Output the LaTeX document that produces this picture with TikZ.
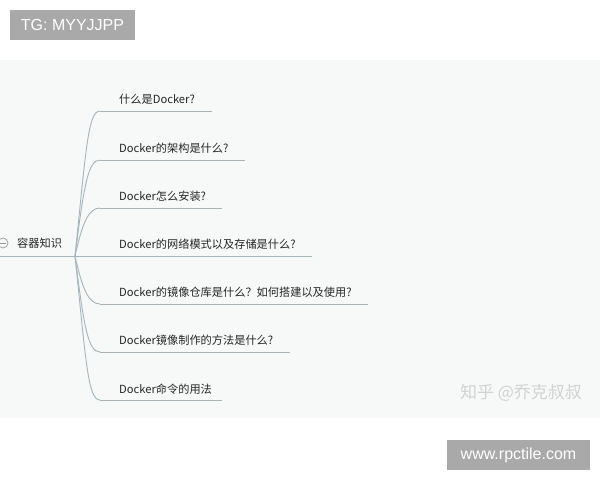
\documentclass[tikz,border=0pt]{standalone}
\usepackage{fontspec}
\setmainfont{Liberation Sans}
\newfontfamily\cjk{Noto Sans CJK SC}
\begin{document}
\begin{tikzpicture}[x=1pt,y=-1pt,
  topic/.style={anchor=west,inner sep=0pt,font=\cjk\fontsize{11.2}{13}\selectfont,text=black!85},
  branch/.style={draw=bluegray,line width=0.9pt},
  uline/.style={draw=ulgray,line width=0.9pt},
  wmbox/.style={fill=boxgray,text=white,inner sep=0pt,font=\fontsize{16}{18}\selectfont}]
\definecolor{bluegray}{HTML}{A3B6BC}
\definecolor{ulgray}{HTML}{A9B3B6}
\definecolor{boxgray}{HTML}{A9A9A9}
\definecolor{panel}{HTML}{F7F8F8}
\useasboundingbox (0,0) rectangle (600,480);
\fill[white] (0,0) rectangle (600,480);
\fill[panel] (0,60) rectangle (600,418);
% watermark boxes
\node[wmbox,minimum width=125pt,minimum height=30pt] (tg) at (72.5,25) {TG: MYYJJPP};
\node[wmbox,minimum width=143pt,minimum height=30pt] (www) at (518.5,455) {www.rpctile.com};
% root
\node[topic] (root) at (17,243) {容器知识};
\draw[gray!80,line width=0.7pt] (3,243) circle (5);
\draw[gray!80,line width=0.7pt] (0,243) -- (6,243);
\coordinate (r0) at (0,256);
\coordinate (hub) at (75,256);
\draw[branch] (r0) -- (hub);
% topics
\node[topic] (t1) at (119,99) {什么是Docker?};
\node[topic] (t2) at (119,148) {Docker的架构是什么?};
\node[topic] (t3) at (119,196) {Docker怎么安装?};
\node[topic] (t4) at (119,244) {Docker的网络模式以及存储是什么?};
\node[topic] (t5) at (119,292) {Docker的镜像仓库是什么？如何搭建以及使用?};
\node[topic] (t6) at (119,340) {Docker镜像制作的方法是什么?};
\node[topic] (t7) at (119,389) {Docker命令的用法};
% underline end coordinates
\coordinate (a1) at (100,111); \coordinate (b1) at (212,111);
\coordinate (a2) at (100,160); \coordinate (b2) at (245,160);
\coordinate (a3) at (100,208); \coordinate (b3) at (222,208);
\coordinate (b4) at (312,256);
\coordinate (a5) at (100,304); \coordinate (b5) at (368,304);
\coordinate (a6) at (100,352); \coordinate (b6) at (290,352);
\coordinate (a7) at (100,400); \coordinate (b7) at (222,400);
% branches
\draw[branch] (hub) .. controls (86,150) and (88,111) .. (a1);
\draw[branch] (hub) .. controls (84,185) and (88,160) .. (a2);
\draw[branch] (hub) .. controls (82,225) and (88,208) .. (a3);
\draw[branch] (hub) -- (b4);
\draw[branch] (hub) .. controls (82,287) and (88,304) .. (a5);
\draw[branch] (hub) .. controls (84,327) and (88,352) .. (a6);
\draw[branch] (hub) .. controls (86,362) and (88,400) .. (a7);
\draw[uline] (a1) -- (b1);
\draw[uline] (a2) -- (b2);
\draw[uline] (a3) -- (b3);
\draw[uline] (a5) -- (b5);
\draw[uline] (a6) -- (b6);
\draw[uline] (a7) -- (b7);
% watermark text
\node[font=\cjk\fontsize{17}{19}\selectfont,text=gray!35,inner sep=0pt] (zh) at (521,393) {知乎 @乔克叔叔};
\end{tikzpicture}
\end{document}
